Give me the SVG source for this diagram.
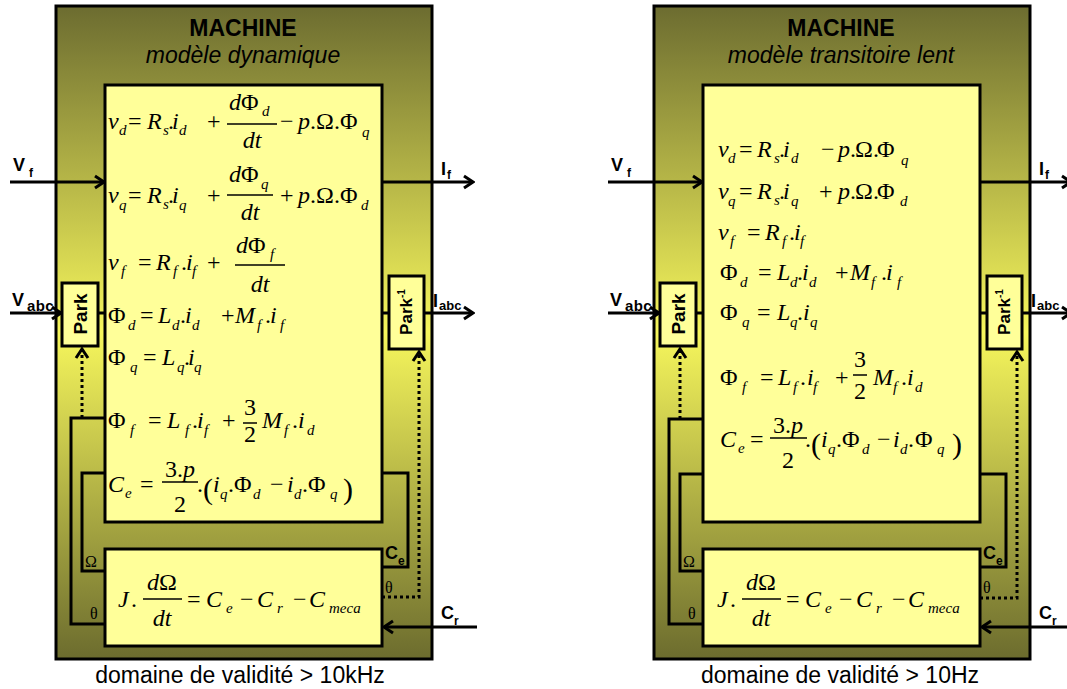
<svg xmlns="http://www.w3.org/2000/svg" width="1067" height="689" viewBox="0 0 1067 689">
<defs>
<linearGradient id="olive" x1="0" y1="0" x2="0" y2="1">
<stop offset="0" stop-color="#6c6c30"/>
<stop offset="0.5" stop-color="#f6f65c"/>
<stop offset="1" stop-color="#6c6c2e"/>
</linearGradient>
<marker id="arr" viewBox="-12 -8 14 16" markerWidth="14" markerHeight="16" refX="0" refY="0" orient="auto" markerUnits="userSpaceOnUse">
<path d="M-9,-6 L0,0 L-9,6" fill="none" stroke="#000" stroke-width="3"/>
</marker>
<style>
.frame{fill:url(#olive);stroke:#000;stroke-width:3}
.box{fill:#ffff99;stroke:#000;stroke-width:3}
.w{fill:none;stroke:#000;stroke-width:3}
.dot{fill:none;stroke:#000;stroke-width:3;stroke-dasharray:3 3}
.fr{stroke:#000;stroke-width:1.5}
.eq{font-family:"Liberation Serif","Times New Roman",serif;font-size:24px;fill:#000}
.it{font-style:italic}
.sb{font-size:15px;font-style:italic}
.par{font-size:30px}
.t1{font-family:"Liberation Sans",Arial,sans-serif;font-weight:bold;font-size:23px;text-anchor:middle}
.t2{font-family:"Liberation Sans",Arial,sans-serif;font-style:italic;font-size:23px;text-anchor:middle}
.cap{font-family:"Liberation Sans",Arial,sans-serif;font-size:23px;text-anchor:middle}
.lb{font-family:"Liberation Sans",Arial,sans-serif;font-weight:bold;font-size:18px}
.ls{font-size:12px}
.la{font-size:15px;letter-spacing:0.4px}
.lc{font-size:13px}
.pk{font-family:"Liberation Sans",Arial,sans-serif;font-weight:bold;font-size:19px;text-anchor:middle}
.gr{font-family:"Liberation Serif","Times New Roman",serif;font-size:16px}
</style>
</defs>
<rect width="1067" height="689" fill="#fff"/>

<!-- LEFT PANEL -->
<g id="panel-dynamique">
<g id="machine-frame-1">
<rect class="frame" x="56" y="6" width="376" height="653"/>
<text class="t1" x="243" y="36">MACHINE</text>
<text class="t2" x="243" y="63">modèle dynamique</text>
</g>
<g id="connectors-1">
<line class="w" x1="10" y1="182" x2="104" y2="182" marker-end="url(#arr)"/>
<line class="w" x1="382" y1="182" x2="473" y2="182" marker-end="url(#arr)"/>
<line class="w" x1="10" y1="313" x2="61" y2="313" marker-end="url(#arr)"/>
<line class="w" x1="98" y1="313" x2="105" y2="313"/>
<line class="w" x1="382" y1="313" x2="389" y2="313"/>
<line class="w" x1="424" y1="313" x2="473" y2="313" marker-end="url(#arr)"/>
<line class="w" x1="477" y1="627" x2="384" y2="627" marker-end="url(#arr)"/>
<polyline class="w" points="105,418 71,418 71,624 105,624"/>
<polyline class="w" points="105,473 82,473 82,571 105,571"/>
<polyline class="w" points="382,473 408,473 408,567 382,567"/>
<polyline class="dot" points="82,418 82,349" marker-end="url(#arr)"/>
<polyline class="dot" points="382,597 419,597 419,352" marker-end="url(#arr)"/>
<text class="lb" x="13" y="171">V<tspan class="ls" x="29" y="177">f</tspan></text>
<text class="lb" x="441" y="175">I<tspan class="ls" x="447" y="179">f</tspan></text>
<text class="lb" x="12" y="306">V<tspan class="la" x="27" y="311">abc</tspan></text>
<text class="lb" x="433" y="307">I<tspan class="lc" x="439" y="310">abc</tspan></text>
<text class="lb" x="385" y="559">C<tspan class="ls" x="398" y="565">e</tspan></text>
<text class="lb" x="441" y="619">C<tspan class="ls" x="454" y="625">r</tspan></text>
<text class="gr" x="85" y="567">Ω</text>
<text class="gr" x="90" y="619">θ</text>
<text class="gr" x="385" y="593">θ</text>
</g>
<g id="park-1">
<rect class="box" x="62" y="283" width="36" height="63"/>
<text class="pk" transform="translate(87,314) rotate(-90)">Park</text>
</g>
<g id="park-inv-1">
<rect class="box" x="389" y="276" width="35" height="73"/>
<text class="pk" style="font-size:17px" transform="translate(412,312) rotate(-90)">Park<tspan style="font-size:10px" dy="-7">-1</tspan></text>
</g>
<g id="equations-1">
<rect class="box" x="105" y="85" width="277" height="437"/>
<text class="eq"><tspan class="it" x="108" y="129">v</tspan><tspan class="sb" x="119" y="135">d</tspan><tspan x="128" y="129">=</tspan><tspan class="it" x="147" y="129">R</tspan><tspan class="sb" x="163" y="135">s</tspan><tspan x="168" y="129">.</tspan><tspan class="it" x="172" y="129">i</tspan><tspan class="sb" x="179" y="135">d</tspan><tspan x="207" y="129">+</tspan><tspan class="it" x="229" y="110">d</tspan><tspan x="241" y="110">Φ</tspan><tspan class="sb" x="262" y="116">d</tspan><tspan x="280" y="129">−</tspan><tspan class="it" x="298" y="129">p</tspan><tspan x="310" y="129">.</tspan><tspan x="316" y="129">Ω</tspan><tspan x="334" y="129">.</tspan><tspan x="340" y="129">Φ</tspan><tspan class="sb" x="362" y="137">q</tspan></text>
<line class="fr" x1="227" y1="124" x2="277" y2="124"/>
<text class="eq it" x="252" y="148" text-anchor="middle">dt</text>

<text class="eq"><tspan class="it" x="108" y="203">v</tspan><tspan class="sb" x="119" y="210">q</tspan><tspan x="128" y="203">=</tspan><tspan class="it" x="147" y="203">R</tspan><tspan class="sb" x="163" y="209">s</tspan><tspan x="168" y="203">.</tspan><tspan class="it" x="172" y="203">i</tspan><tspan class="sb" x="179" y="210">q</tspan><tspan x="207" y="203">+</tspan><tspan class="it" x="229" y="182">d</tspan><tspan x="241" y="182">Φ</tspan><tspan class="sb" x="261" y="189">q</tspan><tspan x="280" y="203">+</tspan><tspan class="it" x="298" y="203">p</tspan><tspan x="310" y="203">.</tspan><tspan x="316" y="203">Ω</tspan><tspan x="334" y="203">.</tspan><tspan x="340" y="203">Φ</tspan><tspan class="sb" x="361" y="210">d</tspan></text>
<line class="fr" x1="227" y1="195" x2="273" y2="195"/>
<text class="eq it" x="250" y="220" text-anchor="middle">dt</text>

<text class="eq"><tspan class="it" x="108" y="270">v</tspan><tspan class="sb" x="121" y="276">f</tspan><tspan x="138" y="270">=</tspan><tspan class="it" x="156" y="270">R</tspan><tspan class="sb" x="173" y="276">f</tspan><tspan x="181" y="270">.</tspan><tspan class="it" x="186" y="270">i</tspan><tspan class="sb" x="192" y="276">f</tspan><tspan x="207" y="270">+</tspan><tspan class="it" x="236" y="253">d</tspan><tspan x="248" y="253">Φ</tspan><tspan class="sb" x="270" y="259">f</tspan></text>
<line class="fr" x1="235" y1="265" x2="285" y2="265"/>
<text class="eq it" x="260" y="292" text-anchor="middle">dt</text>

<text class="eq"><tspan x="108" y="323">Φ</tspan><tspan class="sb" x="128" y="330">d</tspan><tspan x="140" y="323">=</tspan><tspan class="it" x="158" y="323">L</tspan><tspan class="sb" x="172" y="330">d</tspan><tspan x="180" y="323">.</tspan><tspan class="it" x="185" y="323">i</tspan><tspan class="sb" x="192" y="330">d</tspan><tspan x="221" y="323">+</tspan><tspan class="it" x="235" y="323">M</tspan><tspan class="sb" x="257" y="330">f</tspan><tspan x="265" y="323">.</tspan><tspan class="it" x="270" y="323">i</tspan><tspan class="sb" x="280" y="330">f</tspan></text>

<text class="eq"><tspan x="108" y="365">Φ</tspan><tspan class="sb" x="130" y="372">q</tspan><tspan x="143" y="365">=</tspan><tspan class="it" x="162" y="365">L</tspan><tspan class="sb" x="177" y="372">q</tspan><tspan x="184" y="365">.</tspan><tspan class="it" x="188" y="365">i</tspan><tspan class="sb" x="194" y="372">q</tspan></text>

<text class="eq"><tspan x="108" y="428">Φ</tspan><tspan class="sb" x="130" y="435">f</tspan><tspan x="148" y="428">=</tspan><tspan class="it" x="167" y="428">L</tspan><tspan class="sb" x="185" y="435">f</tspan><tspan x="192" y="428">.</tspan><tspan class="it" x="197" y="428">i</tspan><tspan class="sb" x="204" y="435">f</tspan><tspan x="222" y="428">+</tspan><tspan class="it" x="262" y="428">M</tspan><tspan class="sb" x="284" y="435">f</tspan><tspan x="292" y="428">.</tspan><tspan class="it" x="298" y="428">i</tspan><tspan class="sb" x="307" y="435">d</tspan></text>
<line class="fr" x1="243" y1="423" x2="257" y2="423"/>
<text class="eq" x="250" y="415" text-anchor="middle">3</text>
<text class="eq" x="250" y="442" text-anchor="middle">2</text>

<text class="eq"><tspan class="it" x="108" y="492">C</tspan><tspan class="sb" x="125" y="498">e</tspan><tspan x="140" y="492">=</tspan><tspan x="197" y="492">.</tspan><tspan class="par" x="203" y="499">(</tspan><tspan class="it" x="213" y="492">i</tspan><tspan class="sb" x="220" y="499">q</tspan><tspan x="228" y="492">.</tspan><tspan x="234" y="492">Φ</tspan><tspan class="sb" x="253" y="499">d</tspan><tspan x="270" y="492">−</tspan><tspan class="it" x="287" y="492">i</tspan><tspan class="sb" x="294" y="499">d</tspan><tspan x="302" y="492">.</tspan><tspan x="308" y="492">Φ</tspan><tspan class="sb" x="330" y="499">q</tspan><tspan class="par" x="343" y="499">)</tspan></text>
<line class="fr" x1="162" y1="482" x2="198" y2="482"/>
<text class="eq" x="180" y="477" text-anchor="middle">3.<tspan class="it">p</tspan></text>
<text class="eq" x="180" y="512" text-anchor="middle">2</text>
</g>
<g id="mechanics-1">
<rect class="box" x="105" y="549" width="277" height="97"/>
<text class="eq"><tspan class="it" x="118" y="607">J</tspan><tspan x="131" y="607">.</tspan><tspan x="187" y="607">=</tspan><tspan class="it" x="206" y="607">C</tspan><tspan class="sb" x="226" y="613">e</tspan><tspan x="240" y="607">−</tspan><tspan class="it" x="257" y="607">C</tspan><tspan class="sb" x="277" y="613">r</tspan><tspan x="293" y="607">−</tspan><tspan class="it" x="309" y="607">C</tspan><tspan class="sb" x="329" y="613">meca</tspan></text>
<line class="fr" x1="143" y1="599" x2="182" y2="599"/>
<text class="eq" x="162" y="590" text-anchor="middle"><tspan class="it">d</tspan>Ω</text>
<text class="eq it" x="162" y="626" text-anchor="middle">dt</text>
</g>
<text class="cap" x="240" y="683">domaine de validité &gt; 10kHz</text>
</g>

<!-- RIGHT PANEL -->
<g id="panel-transitoire" transform="translate(598,0)">
<g id="machine-frame-2">
<rect class="frame" x="56" y="6" width="376" height="653"/>
<text class="t1" x="243" y="36">MACHINE</text>
<text class="t2" x="243" y="63">modèle transitoire lent</text>
</g>
<g id="connectors-2">
<line class="w" x1="10" y1="182" x2="104" y2="182" marker-end="url(#arr)"/>
<line class="w" x1="382" y1="182" x2="473" y2="182" marker-end="url(#arr)"/>
<line class="w" x1="10" y1="313" x2="61" y2="313" marker-end="url(#arr)"/>
<line class="w" x1="98" y1="313" x2="105" y2="313"/>
<line class="w" x1="382" y1="313" x2="389" y2="313"/>
<line class="w" x1="424" y1="313" x2="473" y2="313" marker-end="url(#arr)"/>
<line class="w" x1="477" y1="627" x2="384" y2="627" marker-end="url(#arr)"/>
<polyline class="w" points="105,419 71,419 71,624 105,624"/>
<polyline class="w" points="105,474 82,474 82,571 105,571"/>
<polyline class="w" points="382,474 408,474 408,567 382,567"/>
<polyline class="dot" points="82,419 82,349" marker-end="url(#arr)"/>
<polyline class="dot" points="382,598 419,598 419,352" marker-end="url(#arr)"/>
<text class="lb" x="13" y="171">V<tspan class="ls" x="29" y="177">f</tspan></text>
<text class="lb" x="441" y="175">I<tspan class="ls" x="447" y="179">f</tspan></text>
<text class="lb" x="12" y="306">V<tspan class="la" x="27" y="311">abc</tspan></text>
<text class="lb" x="433" y="307">I<tspan class="lc" x="439" y="310">abc</tspan></text>
<text class="lb" x="385" y="559">C<tspan class="ls" x="398" y="565">e</tspan></text>
<text class="lb" x="441" y="619">C<tspan class="ls" x="454" y="625">r</tspan></text>
<text class="gr" x="85" y="567">Ω</text>
<text class="gr" x="90" y="619">θ</text>
<text class="gr" x="385" y="593">θ</text>
</g>
<g id="park-2">
<rect class="box" x="62" y="283" width="36" height="63"/>
<text class="pk" transform="translate(87,314) rotate(-90)">Park</text>
</g>
<g id="park-inv-2">
<rect class="box" x="389" y="276" width="35" height="73"/>
<text class="pk" style="font-size:17px" transform="translate(412,312) rotate(-90)">Park<tspan style="font-size:10px" dy="-7">-1</tspan></text>
</g>
<g id="equations-2">
<rect class="box" x="105" y="85" width="277" height="437"/>
<text class="eq"><tspan class="it" x="120" y="157">v</tspan><tspan class="sb" x="130" y="163">d</tspan><tspan x="141" y="157">=</tspan><tspan class="it" x="159" y="157">R</tspan><tspan class="sb" x="176" y="163">s</tspan><tspan x="181" y="157">.</tspan><tspan class="it" x="185" y="157">i</tspan><tspan class="sb" x="193" y="163">d</tspan><tspan x="223" y="157">−</tspan><tspan class="it" x="240" y="157">p</tspan><tspan x="252" y="157">.</tspan><tspan x="257" y="157">Ω</tspan><tspan x="275" y="157">.</tspan><tspan x="279" y="157">Φ</tspan><tspan class="sb" x="303" y="165">q</tspan></text>
<text class="eq"><tspan class="it" x="120" y="199">v</tspan><tspan class="sb" x="130" y="206">q</tspan><tspan x="141" y="199">=</tspan><tspan class="it" x="159" y="199">R</tspan><tspan class="sb" x="176" y="205">s</tspan><tspan x="181" y="199">.</tspan><tspan class="it" x="185" y="199">i</tspan><tspan class="sb" x="193" y="206">q</tspan><tspan x="221" y="199">+</tspan><tspan class="it" x="240" y="199">p</tspan><tspan x="252" y="199">.</tspan><tspan x="257" y="199">Ω</tspan><tspan x="275" y="199">.</tspan><tspan x="279" y="199">Φ</tspan><tspan class="sb" x="302" y="206">d</tspan></text>
<text class="eq"><tspan class="it" x="120" y="240">v</tspan><tspan class="sb" x="132" y="246">f</tspan><tspan x="149" y="240">=</tspan><tspan class="it" x="167" y="240">R</tspan><tspan class="sb" x="184" y="246">f</tspan><tspan x="191" y="240">.</tspan><tspan class="it" x="196" y="240">i</tspan><tspan class="sb" x="202" y="246">f</tspan></text>
<text class="eq"><tspan x="122" y="280">Φ</tspan><tspan class="sb" x="142" y="287">d</tspan><tspan x="160" y="280">=</tspan><tspan class="it" x="179" y="280">L</tspan><tspan class="sb" x="192" y="287">d</tspan><tspan x="199" y="280">.</tspan><tspan class="it" x="204" y="280">i</tspan><tspan class="sb" x="211" y="287">d</tspan><tspan x="237" y="280">+</tspan><tspan class="it" x="252" y="280">M</tspan><tspan class="sb" x="273" y="287">f</tspan><tspan x="283" y="280">.</tspan><tspan class="it" x="288" y="280">i</tspan><tspan class="sb" x="299" y="287">f</tspan></text>
<text class="eq"><tspan x="122" y="320">Φ</tspan><tspan class="sb" x="144" y="327">q</tspan><tspan x="159" y="320">=</tspan><tspan class="it" x="179" y="320">L</tspan><tspan class="sb" x="192" y="327">q</tspan><tspan x="199" y="320">.</tspan><tspan class="it" x="205" y="320">i</tspan><tspan class="sb" x="212" y="327">q</tspan></text>
<text class="eq"><tspan x="122" y="385">Φ</tspan><tspan class="sb" x="144" y="392">f</tspan><tspan x="162" y="385">=</tspan><tspan class="it" x="180" y="385">L</tspan><tspan class="sb" x="195" y="392">f</tspan><tspan x="202" y="385">.</tspan><tspan class="it" x="209" y="385">i</tspan><tspan class="sb" x="215" y="392">f</tspan><tspan x="237" y="385">+</tspan><tspan class="it" x="275" y="385">M</tspan><tspan class="sb" x="295" y="392">f</tspan><tspan x="303" y="385">.</tspan><tspan class="it" x="309" y="385">i</tspan><tspan class="sb" x="317" y="392">d</tspan></text>
<line class="fr" x1="255" y1="375" x2="269" y2="375"/>
<text class="eq" x="262" y="367" text-anchor="middle">3</text>
<text class="eq" x="262" y="399" text-anchor="middle">2</text>
<text class="eq"><tspan class="it" x="122" y="447">C</tspan><tspan class="sb" x="140" y="453">e</tspan><tspan x="152" y="447">=</tspan><tspan x="207" y="447">.</tspan><tspan class="par" x="213" y="454">(</tspan><tspan class="it" x="223" y="447">i</tspan><tspan class="sb" x="230" y="454">q</tspan><tspan x="238" y="447">.</tspan><tspan x="244" y="447">Φ</tspan><tspan class="sb" x="264" y="454">d</tspan><tspan x="279" y="447">−</tspan><tspan class="it" x="295" y="447">i</tspan><tspan class="sb" x="302" y="454">d</tspan><tspan x="310" y="447">.</tspan><tspan x="317" y="447">Φ</tspan><tspan class="sb" x="339" y="454">q</tspan><tspan class="par" x="354" y="454">)</tspan></text>
<line class="fr" x1="172" y1="438" x2="209" y2="438"/>
<text class="eq" x="190" y="433" text-anchor="middle">3.<tspan class="it">p</tspan></text>
<text class="eq" x="190" y="468" text-anchor="middle">2</text>
</g>
<g id="mechanics-2">
<rect class="box" x="105" y="549" width="277" height="97"/>
<text class="eq"><tspan class="it" x="119" y="607">J</tspan><tspan x="132" y="607">.</tspan><tspan x="188" y="607">=</tspan><tspan class="it" x="207" y="607">C</tspan><tspan class="sb" x="227" y="613">e</tspan><tspan x="241" y="607">−</tspan><tspan class="it" x="258" y="607">C</tspan><tspan class="sb" x="278" y="613">r</tspan><tspan x="294" y="607">−</tspan><tspan class="it" x="310" y="607">C</tspan><tspan class="sb" x="330" y="613">meca</tspan></text>
<line class="fr" x1="144" y1="599" x2="183" y2="599"/>
<text class="eq" x="163" y="590" text-anchor="middle"><tspan class="it">d</tspan>Ω</text>
<text class="eq it" x="163" y="626" text-anchor="middle">dt</text>
</g>
<text class="cap" x="242" y="683">domaine de validité &gt; 10Hz</text>
</g>
</svg>
